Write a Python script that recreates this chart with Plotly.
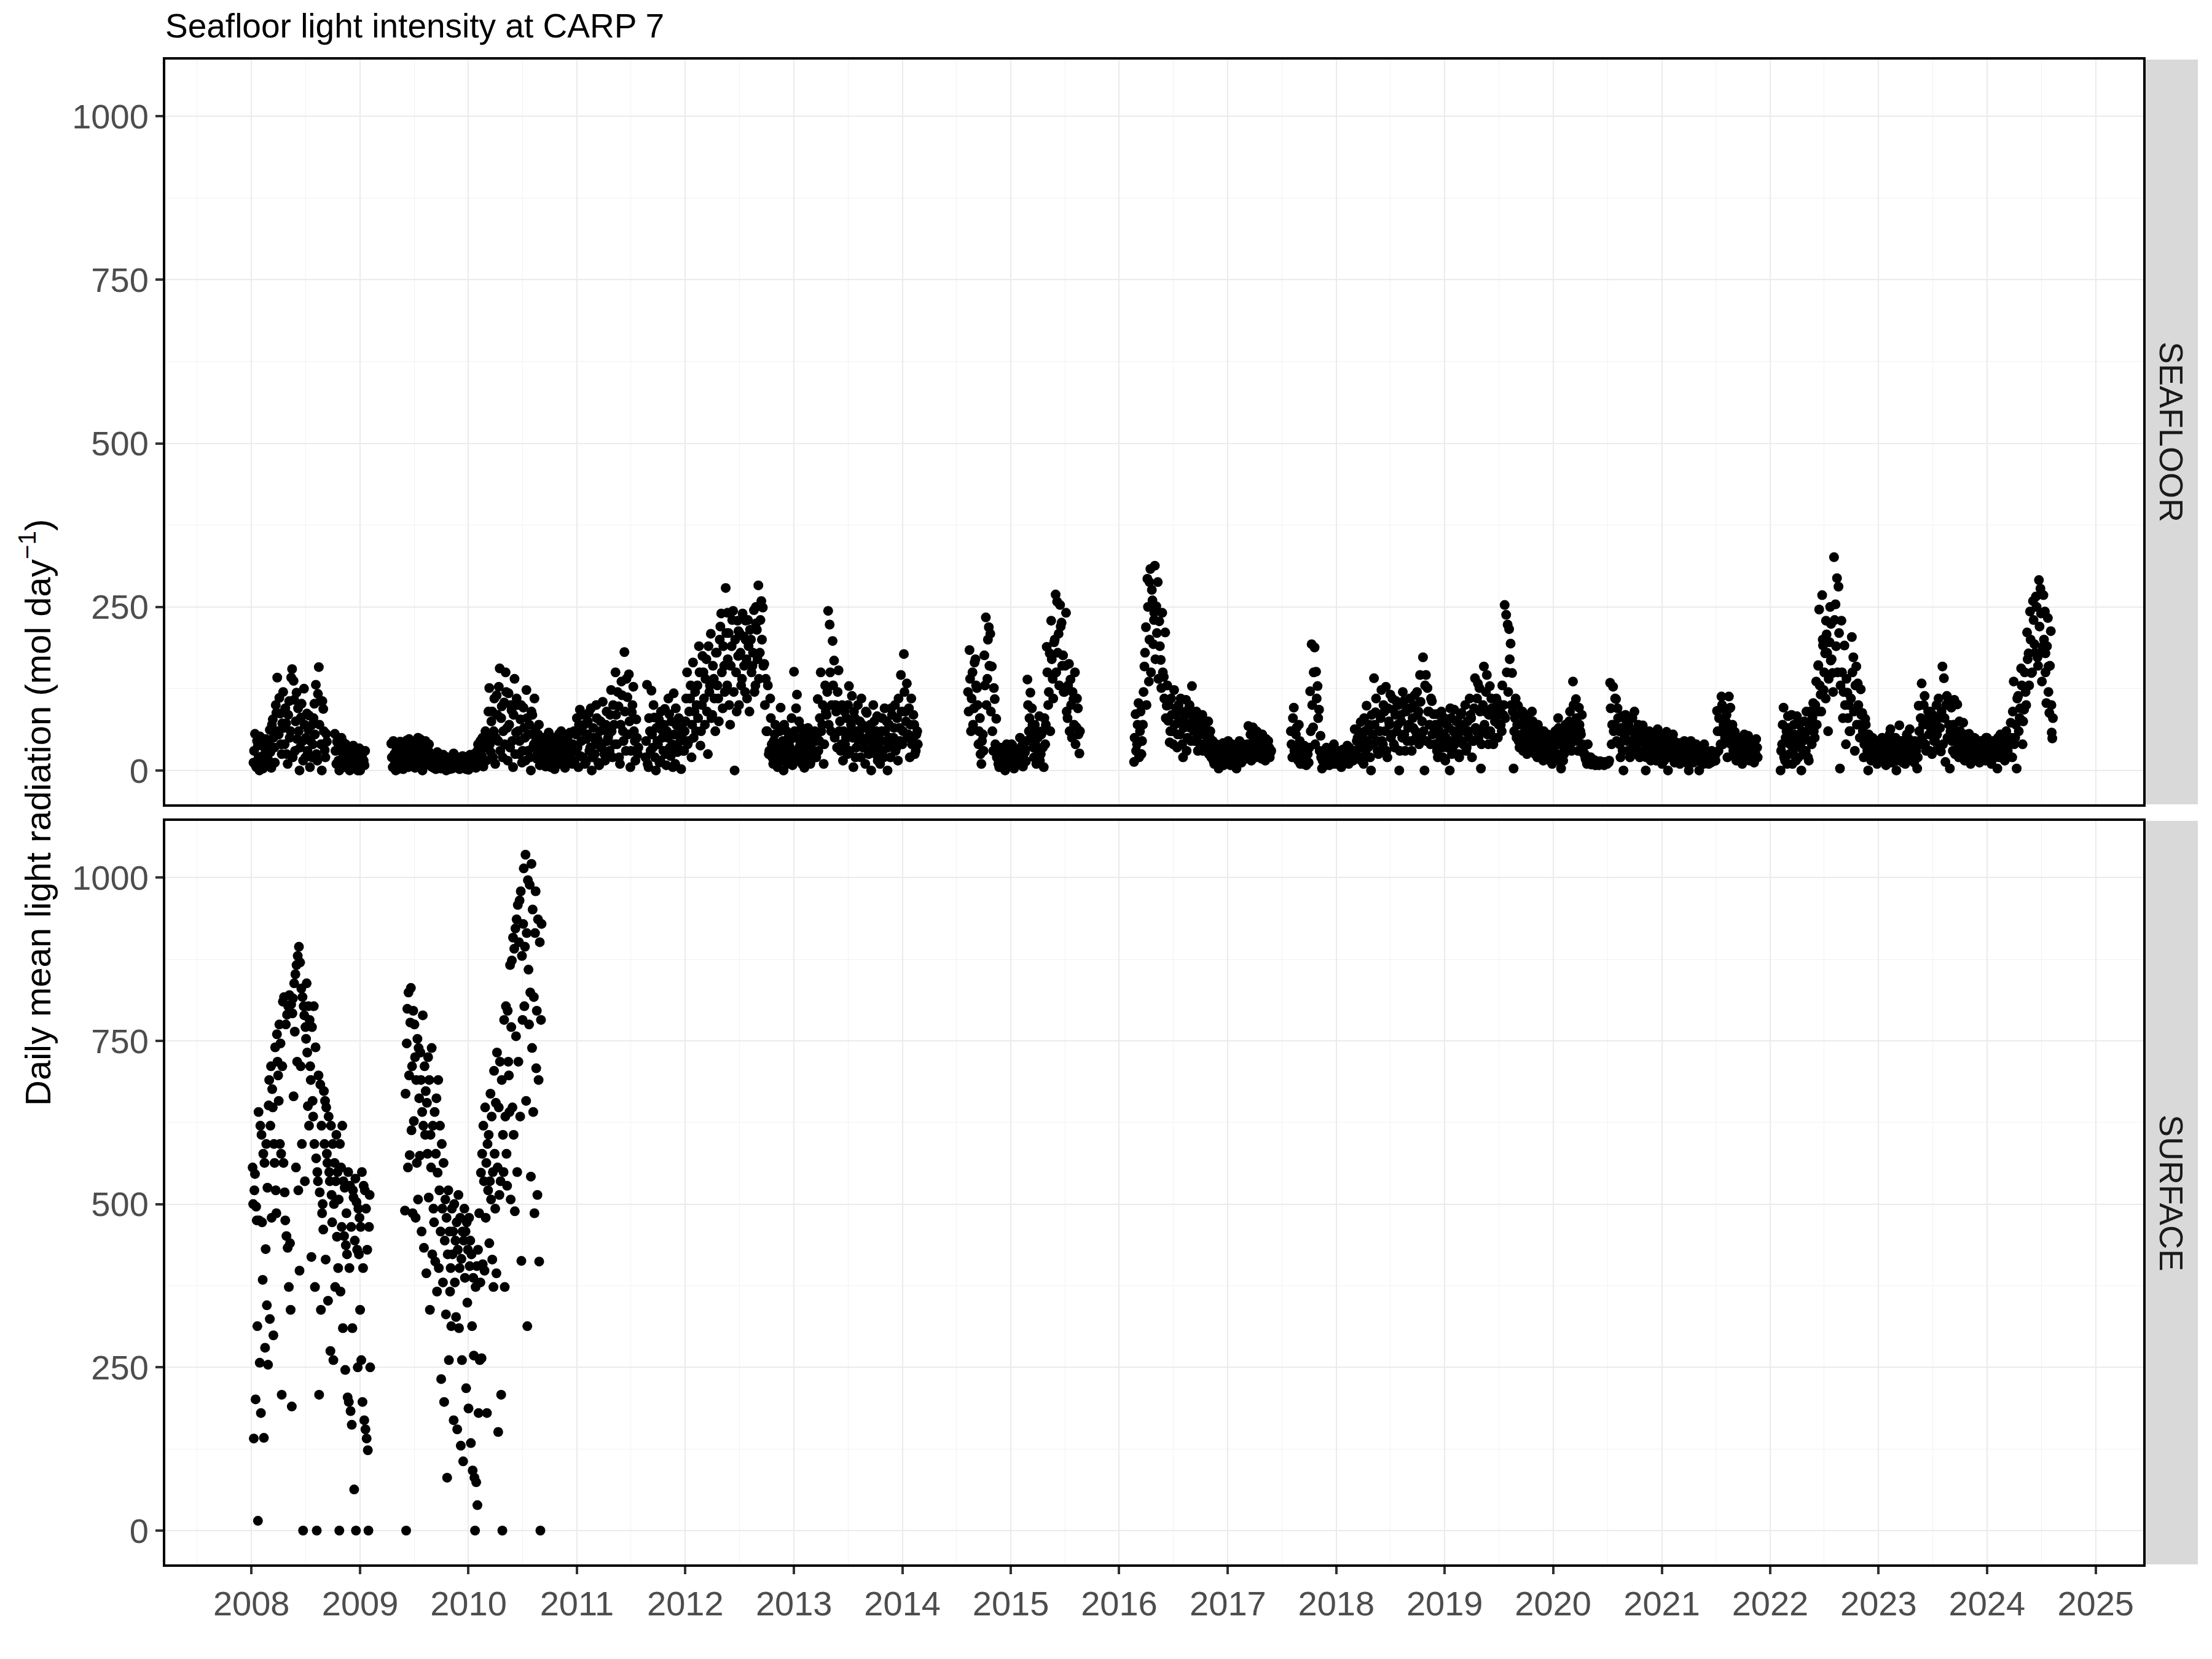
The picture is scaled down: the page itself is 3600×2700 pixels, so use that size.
import pandas as pd
import plotly.graph_objects as go

# ---------------- DATA ----------------
# Seafloor: daily-mean light readings, two interleaved passes at 5-day spacing per deployment
sf_step = "5D"
sf_starts = ["2008-01-08", "2008-10-08", "2009-04-16", "2011-08-20", "2014-08-10",
             "2016-02-20", "2017-08-01", "2022-02-05"]
sf_starts2 = ["2008-01-10", "2008-10-10", "2009-04-18", "2011-08-22", "2014-08-12",
              "2016-02-22", "2017-08-03", "2022-02-07"]

sf_a = [12, 56, 5, 38, 0, 50, 22, 41, 8, 30,
        16, 62, 4, 78, 35, 100, 142, 55, 87, 25,
        120, 40, 72, 10, 106, 60, 155, 137, 30, 119,
        95, 0, 81, 45, 125, 20, 87, 62, 5, 69,
        40, 102, 131, 15, 158, 106, 0, 94, 31, 56]
sf_b = [56, 10, 42, 0, 30, 45, 5, 25, 37, 12, 0, 28, 20, 35, 4, 18, 26, 0, 19, 10, 8]
sf_c = [41, 5, 25, 0, 33, 12, 44, 20, 2, 38, 15, 28, 48, 8,
        30, 40, 4, 22, 50, 13, 35, 0, 26, 45, 10, 30, 18,
        6, 22, 14, 2, 28, 10, 18, 4, 24, 12, 0, 20, 8, 15, 3, 26, 11, 6, 19, 2, 14, 22, 5, 10, 17, 1, 24, 8, 13, 20,
        4, 30, 12, 45, 22, 6, 38, 15, 52, 126,
        28, 90, 60, 10, 115, 45, 156, 80, 20, 104, 150, 65, 118, 35, 92, 5, 140, 58, 100,
        25, 78, 12, 96, 50, 123, 30, 70, 0, 85, 40, 62, 18, 55, 8, 45,
        20, 50, 6, 35, 58, 12, 28, 44, 2, 38, 20, 56, 10, 32, 48, 4, 26, 52, 15, 40,
        10, 60, 30, 80, 5, 93, 45, 20, 70, 12, 55, 88, 35, 0, 65, 25, 100, 48, 8, 75, 40, 62, 15, 90, 50, 30,
        123, 20, 70, 150, 40, 98, 10, 136, 60, 181, 30, 112, 147, 5, 89, 128, 45, 78, 25]
sf_d = [20, 131, 5, 60, 122, 35, 81, 0, 45, 78, 15, 62, 30, 94, 8, 50, 86, 22, 40, 118, 10, 69, 33, 55, 2, 48,
        30, 75, 150, 45, 110, 20, 165, 90, 60, 130, 190, 38, 100, 150, 70, 170, 25, 120, 209, 85,
        140, 60, 180, 110, 200, 240, 95, 160, 279, 130, 210, 70, 190, 244, 0, 150, 229, 100, 180, 140,
        205, 120, 170, 230, 90, 200, 160, 245, 130, 215, 283, 180, 259, 249,
        163, 140, 60, 25, 110, 40, 10, 55, 30,
        5, 40, 96, 20, 0, 35, 60, 12, 45, 28, 8, 151, 50, 116, 15, 38, 65, 22, 4, 48, 30, 58, 10, 42, 25, 60,
        20, 109, 45, 150, 70, 10, 130, 85, 244, 223, 60, 198, 168, 100, 35, 153, 75, 40,
        15, 90, 50, 25, 129, 60, 114, 5, 80, 35, 100, 55, 20, 70, 45, 10, 88, 30, 60, 0, 50, 75, 25, 83, 40,
        10, 60, 30, 95, 45, 0, 70, 20, 85, 50, 100, 35, 15, 65, 146, 40, 178, 90, 133, 55, 20, 110, 45, 70, 30, 60]
sf_e = [120, 184, 60, 150, 95, 170, 126, 40, 80, 10, 55,
        176, 234, 140, 219, 209,
        159, 30, 109, 79,
        20, 5, 35, 12, 28, 0, 40, 15, 8, 25, 38, 3, 18, 30, 10, 50, 22, 6, 33, 14,
        139, 60, 119, 95, 35,
        70, 10, 50, 83, 25, 60, 5, 40,
        189, 100, 179, 229, 140, 196, 269, 258, 209, 253, 226, 176,
        120, 241, 80, 163, 139, 50, 109, 150, 66, 95, 26]
sf_f = [13, 86, 40, 103, 60, 25, 70,
        159, 219, 293, 136, 308, 276, 193, 313, 251, 288, 228,
        169, 241, 143, 211, 99,
        76, 43, 110, 60, 123, 85, 35, 100, 55, 90, 20, 75, 108, 50, 95, 65, 129, 80,
        45, 90, 30, 70, 55, 85, 40, 65, 35, 75, 50,
        20, 45, 10, 38, 25, 3, 30, 15, 42, 22, 12, 35, 28, 8, 40, 18, 30, 3, 25, 45, 15, 32, 20, 38,
        25, 68, 35, 15, 66, 45, 20, 59, 30, 50, 18, 40, 25, 48, 22, 35, 28]
sf_g = [60, 20, 96, 35, 66, 15, 45,
        25, 10, 38, 18, 30, 12,
        121, 193, 66, 188, 151, 129, 93, 53,
        3, 25, 12, 35, 20, 8, 30, 15, 40, 22, 10, 28, 18, 5, 32, 14, 25, 38, 10, 20, 30,
        15, 63, 30, 50, 20, 74, 40, 10, 60, 99, 35, 70, 0, 55, 141, 89, 45, 25,
        60, 123, 40, 90, 128, 20, 75, 116, 55, 93, 35, 106, 70, 0, 85, 50, 106, 30, 95, 65,
        110, 45, 80, 100, 60, 120, 90, 146, 50, 173, 0, 146, 126, 90, 40, 106, 86,
        40, 86, 20, 60, 73, 35, 55, 15, 70, 45, 0, 80, 30, 93, 50, 76, 25, 65, 88, 40,
        60, 30, 75, 50, 85, 20, 45, 141, 60, 133, 126, 3,
        60, 159, 90, 146, 40, 129, 110, 93, 50, 80, 105, 70, 95, 60, 85, 253, 238, 223, 216, 194,
        149, 3, 80, 50, 99, 35, 70, 90, 45, 60, 25, 85, 55, 30, 75, 40, 65, 20, 50, 35, 60, 15, 45, 30, 55, 20, 40, 10,
        30, 60, 15, 80, 40, 3, 55, 25, 70, 35,
        50, 90, 30, 136, 70, 109, 45, 96, 60, 85, 35,
        25, 15, 40, 12, 20, 10, 15, 8, 12, 10, 14, 9, 12, 8, 11, 10, 12,
        134, 40, 128, 70, 109, 95,
        60, 20, 83, 0, 50, 75, 30, 65, 45, 80, 25, 55, 40, 70, 20, 50, 69, 30, 0, 45, 25, 55, 35,
        20, 45, 15, 63, 30, 50, 10, 40, 25, 59, 0, 35, 49, 20, 45, 15, 30, 40, 10, 35,
        25, 45, 15, 30, 0, 20, 38, 12, 28, 40, 18, 0, 25, 35, 10, 22, 30, 15, 25, 12, 20, 28, 15,
        91, 30, 60, 113, 40, 93, 75, 20, 113, 96, 50,
        30, 59, 15, 40, 25, 50, 10, 35, 20, 45, 53, 15, 30, 40, 12, 25, 35]
sf_i = [0, 40, 96, 15, 60, 83, 25, 50, 10, 70, 35, 83, 20, 55, 0, 45, 75, 30, 60, 15, 90, 40, 103,
        50, 136, 90, 246, 116, 268, 123, 179, 208, 60, 196, 224, 149, 326, 254, 294, 281, 3,
        229, 80, 191, 40, 119, 100, 60, 204, 173, 30, 159, 133, 70, 124, 88, 20, 79, 45, 0, 35, 15, 50, 25,
        30, 10, 45, 20, 39, 15, 35, 8, 50, 25, 63, 12, 40, 20, 0, 30, 69, 15, 45, 25, 10, 55, 30, 63, 20, 40, 12, 35, 3,
        99, 40, 133, 70, 114, 30, 79, 55, 90, 25, 65, 45, 100, 35, 80, 29, 159, 141, 13, 114, 106, 3,
        96, 30, 108, 50, 101, 20, 60, 35, 73, 15, 45, 25, 56, 10, 40, 30, 49, 20, 35, 12,
        45, 28, 38, 15, 50, 22, 40, 10, 30, 45, 20, 3, 35, 55, 25, 40, 15, 60, 30, 45,
        73, 20, 136, 50, 3, 114, 80, 156, 40, 93, 120, 211, 179, 243, 149, 259, 193, 266, 173, 291,
        278, 136, 268, 243, 103, 233, 88, 213, 49]

# second pass (interleaved days)
sf_a2 = [30, 8, 45, 20, 52, 15, 3, 35, 48, 18,
         40, 28, 70, 50, 12, 88, 60, 111, 40, 72,
         65, 95, 25, 85, 50, 142, 20, 108, 75, 48,
         60, 35, 102, 15, 70, 50, 30, 84, 45, 20,
         80, 55, 25, 117, 70, 40, 106, 60, 20, 44]
sf_b2 = [30, 44, 15, 36, 50, 20, 8, 40, 14, 32, 22, 5, 38, 12, 27, 0, 34, 10, 24, 15, 30]
sf_c2 = [20, 45, 10, 30, 2, 40, 18, 8, 35, 25, 46, 5, 22, 38,
         12, 28, 42, 6, 32, 48, 20, 38, 8, 30, 15, 40, 25,
         12, 4, 20, 9, 16, 25, 3, 14, 10, 21, 6, 17, 2, 12, 23, 8, 15, 4, 20, 10, 7, 18, 13, 2, 21, 9, 15, 5, 11, 26,
         18, 40, 8, 28, 50, 15, 60, 35, 90, 40,
         75, 20, 110, 50, 85, 128, 30, 98, 60, 40, 120, 15, 70, 100, 45, 85, 25, 110, 60,
         45, 100, 30, 65, 15, 80, 55, 20, 90, 35, 110, 50, 25, 70, 40, 30,
         35, 10, 45, 25, 55, 5, 40, 18, 50, 30, 12, 42, 60, 22, 8, 35, 48, 20, 58, 28,
         40, 15, 55, 35, 70, 22, 60, 85, 10, 48, 75, 30, 95, 20, 50, 40, 80, 12, 60, 35, 105, 25, 70, 45, 55, 85,
         60, 100, 40, 85, 120, 20, 70, 115, 45, 90, 140, 55, 75, 30, 100, 60, 15, 50, 35]
sf_d2 = [45, 10, 80, 30, 55, 100, 20, 65, 40, 12, 90, 50, 70, 25, 60, 110, 35, 75, 5, 55, 95, 28, 80, 45, 65, 30,
         60, 110, 40, 90, 130, 70, 50, 120, 100, 80, 150, 60, 175, 110, 140, 90, 190, 130, 80, 160,
         110, 180, 130, 75, 220, 150, 190, 120, 210, 170, 100, 160, 230, 120, 200, 90, 175, 210, 130, 240,
         160, 200, 110, 190, 215, 150, 180, 120, 225, 170, 140, 230, 200, 160,
         100, 60, 130, 30, 80, 20, 45, 70, 15,
         30, 60, 15, 45, 70, 25, 10, 50, 35, 80, 20, 60, 95, 30, 75, 45, 10, 55, 35, 20, 65, 40, 15, 50, 30, 45,
         50, 30, 80, 60, 100, 40, 90, 120, 70, 150, 100, 130, 50, 90, 120, 60, 30, 100,
         60, 40, 80, 100, 30, 70, 50, 90, 20, 60, 45, 75, 110, 35, 65, 90, 50, 25, 70, 40, 100, 30, 60, 15, 55,
         45, 80, 20, 60, 75, 35, 50, 95, 40, 65, 30, 80, 110, 45, 90, 60, 120, 75, 50, 95, 70, 40, 85, 25, 55, 40]
sf_e2 = [90, 140, 110, 70, 165, 130, 100, 60, 25, 45, 30,
         130, 100, 200, 160, 90,
         60, 126, 40, 20,
         10, 30, 18, 25, 5, 35, 20, 12, 28, 40, 8, 22, 15, 32, 25, 10, 38, 18, 28, 45,
         100, 80, 50, 70, 20,
         40, 60, 30, 15, 55, 35, 80, 70,
         150, 120, 60, 170, 110, 200, 150, 180, 130, 220, 160, 120,
         160, 90, 130, 60, 100, 120, 70, 40, 110, 55, 60]
sf_f2 = [50, 30, 70, 20, 90, 45, 120,
         180, 100, 250, 200, 150, 260, 230, 170, 210, 140, 190,
         126, 150, 110, 80, 130,
         100, 60, 85, 40, 70, 95, 55, 75, 110, 40, 65, 85, 30, 70, 100, 45, 90, 60,
         70, 50, 80, 40, 60, 30, 55, 75, 45, 25, 60,
         35, 15, 28, 40, 12, 22, 35, 20, 8, 30, 25, 45, 15, 32, 20, 38, 10, 28, 22, 35, 12, 40, 25, 18,
         40, 20, 55, 30, 45, 25, 60, 35, 20, 40, 55, 30, 15, 38, 45, 20, 30]
sf_g2 = [40, 80, 30, 55, 20, 70, 10,
         15, 30, 20, 8, 25, 35,
         60, 100, 150, 40, 110, 80, 30, 20,
         15, 30, 8, 20, 28, 12, 35, 22, 10, 25, 18, 30, 8, 22, 15, 28, 12, 20, 35, 15, 25,
         30, 20, 45, 60, 35, 15, 55, 80, 25, 45, 65, 20, 85, 40, 70, 110, 30, 60,
         80, 45, 100, 60, 30, 95, 70, 50, 110, 40, 85, 60, 100, 30, 75, 120, 55, 90, 45, 70,
         95, 30, 65, 115, 50, 85, 40, 105, 75, 60, 130, 45, 90, 70, 110, 55, 65,
         70, 30, 55, 45, 90, 20, 80, 50, 35, 65, 95, 25, 60, 40, 75, 55, 20, 85, 45, 70,
         100, 35, 60, 110, 80, 45, 95, 65, 110, 50, 90, 40,
         100, 70, 120, 55, 85, 60, 95, 40, 75, 110, 50, 90, 70, 130, 100, 80, 150, 120, 170, 100,
         90, 60, 110, 70, 45, 85, 55, 30, 75, 50, 40, 65, 35, 90, 45, 25, 55, 70, 30, 45, 20, 60, 35, 25, 50, 15, 30, 45,
         50, 20, 40, 65, 25, 45, 15, 35, 50, 60,
         75, 40, 60, 100, 50, 80, 30, 70, 55, 40, 25,
         18, 10, 14, 20, 9, 13, 16, 10, 12, 8, 14, 11, 9, 13, 10, 12, 15,
         95, 70, 60, 110, 45, 80,
         40, 65, 30, 55, 85, 45, 70, 20, 60, 35, 90, 50, 30, 60, 45, 25, 55, 40, 20, 35, 60, 15, 40,
         35, 25, 50, 20, 40, 30, 55, 15, 45, 28, 38, 20, 30, 55, 12, 35, 25, 42, 18, 30,
         40, 22, 33, 10, 28, 45, 18, 25, 35, 15, 30, 22, 12, 28, 40, 18, 25, 10, 22, 30, 14, 20, 26,
         60, 80, 40, 100, 70, 50, 85, 60, 95, 40, 70,
         45, 20, 35, 50, 15, 40, 28, 55, 22, 38, 30, 45, 20, 35, 25, 48, 20]
sf_i2 = [30, 70, 20, 50, 10, 65, 40, 85, 30, 55, 15, 45, 70, 35, 60, 25, 50, 90, 20, 70, 45, 80, 60,
         100, 70, 160, 130, 90, 200, 150, 110, 180, 140, 250, 170, 120, 230, 190, 150, 210, 130,
         150, 120, 100, 140, 80, 60, 110, 150, 90, 130, 70, 100, 50, 85, 60, 40, 70, 30, 55, 25, 40, 20, 35,
         20, 40, 15, 30, 50, 25, 45, 18, 35, 55, 20, 40, 28, 50, 15, 35, 25, 45, 12, 30, 40, 20, 48, 25, 35, 15, 45, 30, 20,
         60, 80, 50, 100, 40, 70, 90, 30, 60, 85, 45, 75, 55, 110, 65, 90, 40, 80, 100, 50, 70, 60,
         45, 70, 25, 60, 40, 75, 30, 50, 20, 40, 55, 30, 45, 20, 35, 50, 25, 40, 15, 30,
         45, 20, 35, 50, 28, 40, 18, 30, 45, 25, 38, 50, 20, 35, 45, 30, 55, 25, 40, 50,
         50, 90, 40, 70, 110, 60, 95, 130, 75, 150, 100, 170, 130, 200, 150, 230, 180, 250, 160, 220,
         240, 180, 200, 150, 190, 120, 160, 100, 80]

sf_series = [sf_a, sf_b, sf_c, sf_d, sf_e, sf_f, sf_g, sf_i]
sf_series2 = [sf_a2, sf_b2, sf_c2, sf_d2, sf_e2, sf_f2, sf_g2, sf_i2]

# additional seafloor readings around the seasonal peaks
sf_extra_dates = ["2012-05-22", "2012-06-28", "2012-07-22", "2012-08-26", "2016-04-12", "2016-04-28",
                  "2022-06-12", "2022-06-28", "2022-07-08", "2022-07-24",
                  "2024-07-06", "2024-07-16", "2024-07-26", "2024-08-06"]
sf_extra_vals = [241, 213, 229, 250, 288, 241, 161, 191, 229, 168, 189, 179, 159, 58]

# Surface: daily-mean light readings at 2-day spacing
su_step = "2D"
su_starts = ["2008-01-05", "2009-06-01"]
su_a = [556, 500, 141, 521, 546, 201, 496, 475, 313, 15,
        641, 475, 257, 620, 180, 606, 472, 384, 577, 142,
        563, 280, 431, 592, 345, 525, 254, 651, 690, 324,
        620, 711, 479, 676, 648, 299, 592, 563, 740, 521,
        486, 760, 718, 697, 658, 775, 592, 746, 577, 208,
        711, 810, 563, 817, 518, 475, 775, 451, 790, 433,
        803, 373, 820, 440, 338, 806, 190, 792, 815, 665,
        838, 764, 852, 556, 866, 718, 880, 521, 894, 398,
        870, 711, 830, 592, 817, 0, 803, 789, 535, 771,
        753, 838, 732, 650, 803, 620, 782, 711, 690, 419,
        771, 658, 634, 803, 592, 373, 740, 570, 0, 549,
        535, 697, 208, 518, 683, 338, 620, 486, 500, 461,
        673, 592, 658, 415, 648, 577, 563, 352, 634, 549,
        535, 275, 620, 514, 472, 592, 261, 500, 563, 373,
        535, 606, 450, 549, 402, 507, 0, 592, 366, 556,
        465, 620, 310, 535, 451, 525, 246, 437, 486, 423,
        204, 549, 197, 402, 528, 183, 465, 162, 310, 521,
        510, 63, 444, 539, 0, 503, 430, 250, 493, 423,
        479, 338, 465, 261, 549, 197, 402, 528, 169, 521,
        155, 493, 141, 430, 123, 0, 465, 514, 250]
su_b = [490, 669, 0, 746, 799, 556, 824, 697, 575, 778,
        831, 613, 711, 486, 796, 627, 775, 725, 479, 690,
        563, 753, 507, 739, 662, 574, 732, 690, 458, 641,
        789, 620, 433, 711, 606, 673, 394, 655, 577, 725,
        510, 690, 338, 606, 556, 739, 423, 620, 493, 472,
        641, 412, 577, 662, 366, 548, 690, 402, 521, 620,
        458, 232, 592, 493, 380, 563, 197, 444, 507, 331,
        479, 81, 423, 521, 261, 458, 366, 402, 313, 493,
        423, 458, 169, 500, 380, 444, 327, 472, 155, 430,
        514, 310, 402, 479, 130, 416, 261, 458, 106, 444,
        493, 387, 458, 218, 472, 349, 430, 187, 479, 405,
        444, 134, 423, 313, 92, 387, 268, 81, 0, 373,
        74, 405, 39, 430, 180, 486, 261, 380, 548, 264,
        577, 408, 620, 535, 398, 648, 479, 563, 180, 592,
        521, 606, 440, 535, 669, 507, 634, 415, 549, 373,
        704, 577, 493, 655, 394, 732, 556, 151, 648, 514,
        718, 535, 208, 690, 0, 606, 549, 782, 373, 634,
        803, 577, 528, 796, 718, 697, 641, 866, 507, 771,
        873, 648, 908, 606, 891, 489, 922, 757, 936, 549,
        958, 718, 901, 965, 634, 979, 413, 880, 782, 929,
        1014, 803, 894, 1035, 658, 915, 313, 996, 859, 775,
        989, 824, 542, 1021, 739, 951, 641, 817, 486, 915,
        979, 708, 796, 514, 936, 690, 412, 901, 0, 782, 929]
su_series = [su_a, su_b]

years = list(range(2008, 2026))
y_ticks = [0, 250, 500, 750, 1000]
y_minor = [125, 375, 625, 875]
panel_labels = ["SEAFLOOR", "SURFACE"]
title_text = "Seafloor light intensity at CARP 7"
y_title = "Daily mean light radiation (mol day<sup>\u22121</sup>)"

# ---------------- BUILD ----------------
def expand(starts, series, step):
    xs, ys = [], []
    for s, v in zip(starts, series):
        d = pd.date_range(start=s, periods=len(v), freq=step)
        xs.extend(list(d))
        ys.extend(v)
    return xs, ys

sf_x, sf_y = expand(sf_starts, sf_series, sf_step)
x2, y2 = expand(sf_starts2, sf_series2, sf_step)
sf_x += x2
sf_y += y2
sf_x += list(pd.to_datetime(sf_extra_dates))
sf_y += sf_extra_vals
su_x, su_y = expand(su_starts, su_series, su_step)

FONT = "Liberation Sans, Arial, sans-serif"
W, H = 3600, 2700
OFF = 8  # page body margin
px_l, px_r = 269 - OFF, 3488 - OFF
top_t, top_b = 97 - OFF, 1309 - OFF
bot_t, bot_b = 1336 - OFF, 2546 - OFF

def fy(p):
    return 1 - p / H

marker = dict(color="black", size=16, line=dict(width=0))
fig = go.Figure()
fig.add_trace(go.Scatter(x=sf_x, y=sf_y, mode="markers", marker=marker,
                         xaxis="x", yaxis="y", showlegend=False, hoverinfo="skip"))
fig.add_trace(go.Scatter(x=su_x, y=su_y, mode="markers", marker=marker,
                         xaxis="x2", yaxis="y2", showlegend=False, hoverinfo="skip"))

xrange = ["2007-03-17", "2025-06-10"]
yrange = [-51.75, 1086.75]
major_ticks = [f"{y}-01-01" for y in years]
minor_ticks = [f"{y}-07-02" for y in range(2007, 2025)]

grid_major = "#EBEBEB"
grid_minor = "#F2F2F2"

def xaxis_cfg(anchor, labels):
    return dict(
        domain=[px_l / W, px_r / W], range=xrange, type="date", anchor=anchor,
        tickmode="array", tickvals=major_ticks, ticktext=[str(y) for y in years],
        showticklabels=labels, ticks="outside" if labels else "",
        ticklen=12, tickwidth=4, tickcolor="#333333",
        tickfont=dict(family=FONT, size=56, color="#4D4D4D"),
        showgrid=True, gridcolor=grid_major, gridwidth=2,
        minor=dict(tickvals=minor_ticks, showgrid=True, gridcolor=grid_minor, gridwidth=1, ticks=""),
        showline=True, linecolor="black", linewidth=4, mirror=True, zeroline=False,
    )

def yaxis_cfg(anchor, t, b):
    return dict(
        domain=[fy(b), fy(t)], range=yrange, anchor=anchor,
        tickmode="array", tickvals=y_ticks, ticktext=[str(v) for v in y_ticks],
        ticks="outside", ticklen=12, tickwidth=4, tickcolor="#333333",
        tickfont=dict(family=FONT, size=56, color="#4D4D4D"),
        showgrid=True, gridcolor=grid_major, gridwidth=2,
        minor=dict(tickvals=y_minor, showgrid=True, gridcolor=grid_minor, gridwidth=1, ticks=""),
        showline=True, linecolor="black", linewidth=4, mirror=True, zeroline=False,
    )

shapes, annotations = [], []
for (t, b), lab in zip([(top_t, top_b), (bot_t, bot_b)], panel_labels):
    shapes.append(dict(type="rect", xref="paper", yref="paper",
                       x0=(3491 - OFF) / W, x1=(3577 - OFF) / W, y0=fy(b), y1=fy(t),
                       fillcolor="#D9D9D9", line=dict(width=0), layer="below"))
    annotations.append(dict(text=lab, xref="paper", yref="paper",
                            x=(3534 - OFF) / W, y=fy((t + b) / 2), showarrow=False, textangle=90,
                            xanchor="center", yanchor="middle",
                            font=dict(family=FONT, size=54, color="#1A1A1A")))

annotations.append(dict(text=title_text, xref="paper", yref="paper", x=(px_l - 2) / W, y=fy(34),
                        xanchor="left", yanchor="middle", showarrow=False,
                        font=dict(family=FONT, size=55, color="black")))
annotations.append(dict(text=y_title, xref="paper", yref="paper", x=49 / W, y=fy(1315),
                        xanchor="center", yanchor="middle", showarrow=False, textangle=-90,
                        font=dict(family=FONT, size=58, color="black")))

fig.update_layout(
    width=W, height=H, margin=dict(l=0, r=0, t=0, b=0),
    paper_bgcolor="white", plot_bgcolor="white",
    xaxis=xaxis_cfg("y", False),
    xaxis2=xaxis_cfg("y2", True),
    yaxis=yaxis_cfg("x", top_t, top_b),
    yaxis2=yaxis_cfg("x2", bot_t, bot_b),
    shapes=shapes, annotations=annotations, showlegend=False,
)
fig.update_layout(xaxis2=dict(matches="x"))

fig.write_html("out.html")
